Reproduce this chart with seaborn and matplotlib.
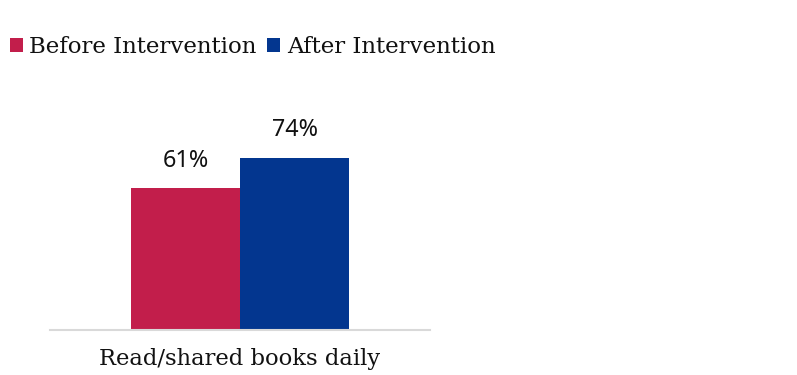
import pandas as pd
import matplotlib.pyplot as plt
import seaborn as sns

# data
categories = ['Read/shared books daily']
before_vals = [61]
after_vals = [74]
series_names = ['Before Intervention', 'After Intervention']
colors = ['#C21E4B', '#03368F']

df = pd.DataFrame({
    'category': categories * 2,
    'group': [series_names[0]] * len(categories) + [series_names[1]] * len(categories),
    'value': before_vals + after_vals,
})

sns.set_style('white')
plt.rcParams['font.family'] = ['DejaVu Serif']

fig = plt.figure(figsize=(7.97, 3.75), dpi=100)
ax = fig.add_axes([50 / 797, 45 / 375, 380 / 797, 233 / 375])

sns.barplot(data=df, x='category', y='value', hue='group', palette=colors,
            width=0.8, gap=0, saturation=1, linewidth=0, ax=ax)

ax.set_xlim(-0.697, 0.697)
ax.set_ylim(0, 100)

for c in ax.containers:
    ax.bar_label(c, fmt='%d%%', padding=11, fontsize=16.8, family='Noto Sans', color='#111111')

for s in ['top', 'right', 'left']:
    ax.spines[s].set_visible(False)
ax.spines['bottom'].set_color('#d9d9d9')
ax.spines['bottom'].set_linewidth(1.5)
ax.set_yticks([])
ax.set_xlabel('')
ax.set_ylabel('')
ax.tick_params(axis='x', length=0, pad=13, labelsize=16.3, labelcolor='#111111')

leg = ax.legend(loc='center left', bbox_to_anchor=(10 / 797, 1 - 47 / 375), bbox_transform=fig.transFigure,
                ncol=2, frameon=False, fontsize=16.5, handlelength=0.55, handleheight=0.55,
                handletextpad=0.3, columnspacing=0.45, borderaxespad=0, borderpad=0)
for t in leg.get_texts():
    t.set_color('#111111')

fig.savefig('out.png', dpi=100)
